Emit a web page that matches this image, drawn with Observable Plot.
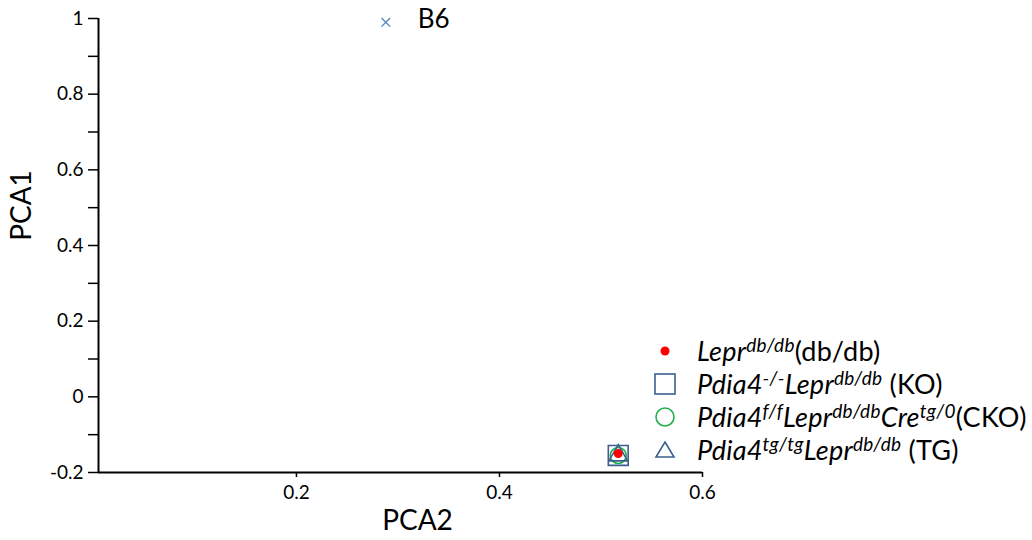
<!DOCTYPE html>
<html>
<head>
<meta charset="utf-8">
<script src="https://cdn.jsdelivr.net/npm/d3@7"></script>
<script src="https://cdn.jsdelivr.net/npm/@observablehq/plot@0.6"></script>
<style>
  html, body { margin: 0; padding: 0; background: #fff; }
  #wrap { position: relative; width: 1032px; height: 540px; font-family: Lato, "Open Sans", sans-serif; }
  #legend { position: absolute; left: 648px; top: 334px; font-size: 27px; color: #000; letter-spacing: 0.25px; }
  #legend .row { height: 33px; display: flex; align-items: center; white-space: nowrap; }
  #legend svg { width: 34px; height: 30px; flex: none; }
  #legend .t { margin-left: 15px; }
  #legend i { font-style: italic; }
  #legend sup { font-size: 19px; vertical-align: 9px; line-height: 0; }
</style>
</head>
<body>
<div id="wrap"></div>
<script>
// ---- data ----
const groups = ["B6", "db/db", "KO", "CKO", "TG"];
const pca2 = [0.288, 0.517, 0.517, 0.517, 0.517];
const pca1 = [0.99, -0.15, -0.155, -0.155, -0.155];
const yTicks = [-0.2, 0, 0.2, 0.4, 0.6, 0.8, 1];
const yMinorTicks = [-0.1, 0.1, 0.3, 0.5, 0.7, 0.9];
const xTicks = [0.2, 0.4, 0.6];
const xDomain = [0.005, 0.6];
const yDomain = [-0.2, 1];

const data = groups.map((g, i) => ({group: g, x: pca2[i], y: pca1[i]}));
const pick = g => data.filter(d => d.group === g);
const fmt = d => String(+d.toFixed(1));

const chart = Plot.plot({
  width: 1032,
  height: 540,
  marginLeft: 98,
  marginRight: 330,
  marginTop: 18,
  marginBottom: 68,
  style: {fontFamily: "Lato, 'Open Sans', sans-serif", fontSize: "19px", color: "#000", background: "#fff"},
  x: {domain: xDomain, axis: null},
  y: {domain: yDomain, axis: null},
  marks: [
    Plot.axisY(yTicks, {tickSize: 10, tickPadding: 5, tickFormat: fmt, fontSize: 19, label: null, strokeWidth: 1.5}),
    Plot.axisY(yMinorTicks, {tickSize: 10, tickFormat: () => "", label: null, strokeWidth: 1.5}),
    Plot.axisX(xTicks, {tickSize: 5, tickPadding: 8, tickFormat: fmt, fontSize: 19, label: null, strokeWidth: 1.5}),
    Plot.ruleX([xDomain[0]], {stroke: "#000", strokeWidth: 2}),
    Plot.ruleY([yDomain[0]], {stroke: "#000", strokeWidth: 2}),
    Plot.dot(pick("B6"), {x: "x", y: "y", symbol: "times", r: 4, stroke: "#4f81bd", strokeWidth: 1.3}),
    Plot.text(pick("B6"), {x: "x", y: "y", text: "group", dx: 32, dy: -3, textAnchor: "start", fontSize: 26, fill: "#000"}),
    Plot.dot(pick("KO"), {x: "x", y: "y", symbol: "square", r: 11.2, stroke: "#3d5f8f", strokeWidth: 1.6}),
    Plot.dot(pick("CKO"), {x: "x", y: "y", symbol: "circle", r: 8, stroke: "#21b04b", strokeWidth: 1.6}),
    Plot.dot(pick("TG"), {x: "x", y: "y", symbol: "triangle", r: 7, stroke: "#3d5f8f", strokeWidth: 1.6}),
    Plot.dot(pick("db/db"), {x: "x", y: "y", symbol: "circle", r: 4.5, fill: "#ff0000", stroke: "none"}),
    // axis titles
    Plot.text(["PCA2"], {frameAnchor: "bottom", dx: 17, dy: 57, fontSize: 28, fill: "#000"}),
    Plot.text(["PCA1"], {frameAnchor: "left", textAnchor: "middle", dx: -76, dy: -40, rotate: -90, fontSize: 28, fill: "#000"})
  ]
});
document.getElementById("wrap").appendChild(chart);

// legend (HTML for superscripts)
const legend = document.createElement("div");
legend.id = "legend";
legend.innerHTML = `
<div class="row"><svg viewBox="-17 -15 34 30"><circle r="4.5" fill="#ff0000"/></svg><span class="t"><i>Lepr<sup>db/db</sup></i>(db/db)</span></div>
<div class="row"><svg viewBox="-17 -15 34 30"><rect x="-10" y="-10" width="20" height="20" fill="none" stroke="#3d5f8f" stroke-width="1.6"/></svg><span class="t"><i>Pdia4<sup>-/-</sup>Lepr<sup>db/db</sup></i> (KO)</span></div>
<div class="row"><svg viewBox="-17 -15 34 30"><circle r="9" fill="none" stroke="#21b04b" stroke-width="1.6"/></svg><span class="t"><i>Pdia4<sup>f/f</sup>Lepr<sup>db/db</sup>Cre<sup>tg/0</sup></i>(CKO)</span></div>
<div class="row"><svg viewBox="-17 -15 34 30"><path d="M0,-8L9,7H-9Z" fill="none" stroke="#3d5f8f" stroke-width="1.6"/></svg><span class="t"><i>Pdia4<sup>tg/tg</sup>Lepr<sup>db/db</sup></i> (TG)</span></div>`;
document.getElementById("wrap").appendChild(legend);
</script>
</body>
</html>
